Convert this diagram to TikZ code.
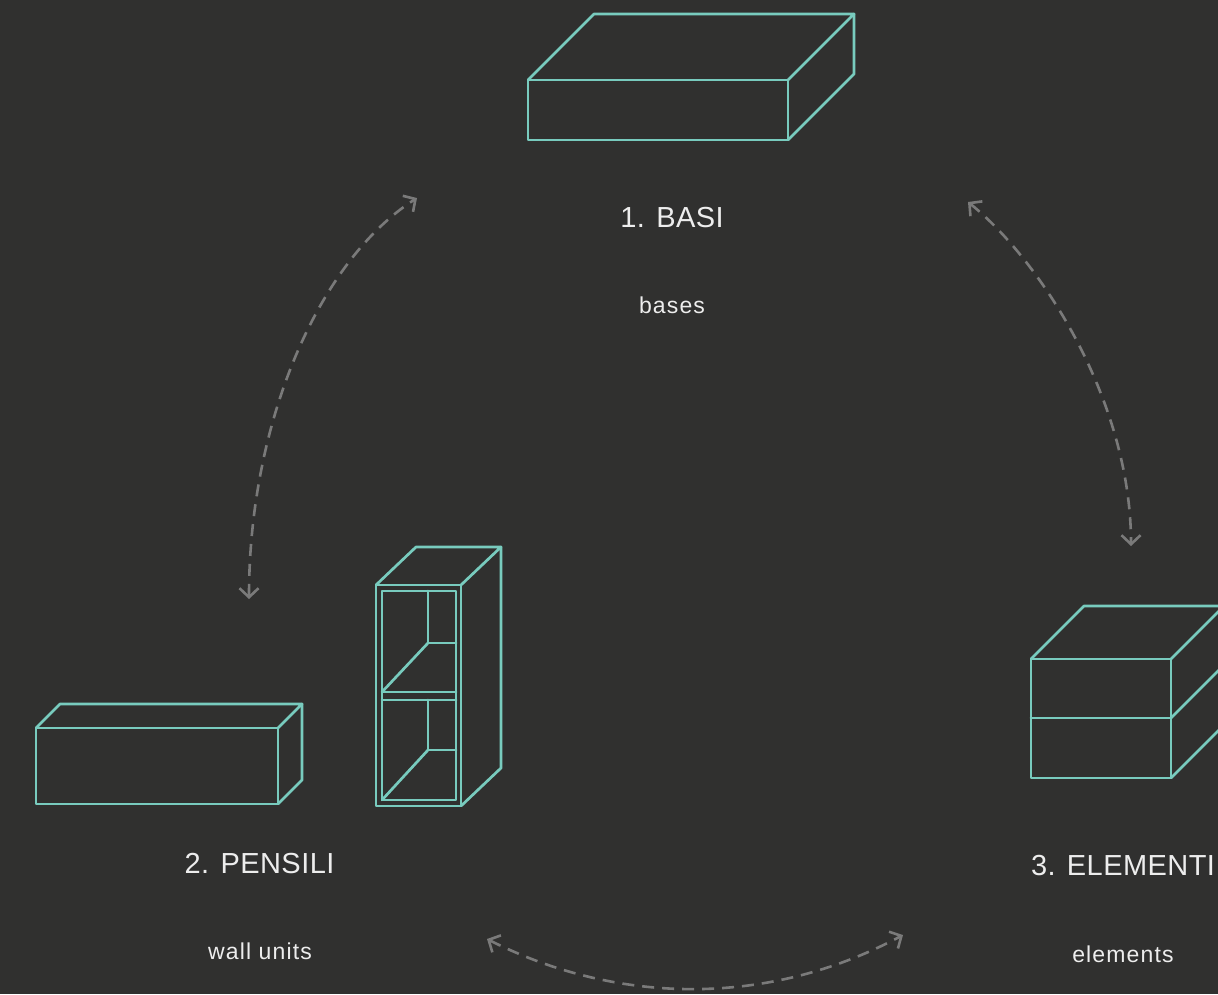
\documentclass[tikz,border=0pt]{standalone}
\usepackage{fontspec}
\setmainfont{Liberation Sans}
\newfontfamily\labelfont[LetterSpace=1.5]{Liberation Sans}
\newfontfamily\subfont[LetterSpace=5]{Liberation Sans}
\usetikzlibrary{arrows.meta}
\definecolor{bgc}{HTML}{30302F}
\definecolor{tealc}{HTML}{78CBBE}
\definecolor{arrc}{HTML}{7A7A7A}
\definecolor{txtc}{HTML}{EDEDED}
\tikzset{
  edge/.style={draw=tealc, line width=2.7pt, line join=round, line cap=round},
  cyc/.style={draw=arrc, line width=2.6pt, dash pattern=on 12pt off 8pt,
    {Straight Barb[length=9pt,width=19pt]}-{Straight Barb[length=9pt,width=19pt]}},
  title/.style={text=txtc, inner sep=0pt, font=\labelfont\fontsize{29}{34}\selectfont},
  sub/.style={text=txtc, inner sep=0pt, font=\subfont\fontsize{23}{28}\selectfont}
}
\begin{document}
\begin{tikzpicture}[x=1pt,y=-1pt]
\useasboundingbox (0,0) rectangle (1218,994);
\fill[bgc] (0,0) rectangle (1218,994);
\clip (0,0) rectangle (1218,994);

% 1. BASI box
\draw[edge] (528,80) rectangle (788,140);
\draw[edge] (528,80) -- (594,14) -- (854,14) -- (788,80);
\draw[edge] (788,140) -- (854,74) -- (854,14);

% 2. PENSILI long box
\draw[edge] (36,728) rectangle (278,804);
\draw[edge] (36,728) -- (60,704) -- (302,704) -- (278,728);
\draw[edge] (278,804) -- (302,780) -- (302,704);

% 2. PENSILI tall cabinet
\draw[edge] (376,585) rectangle (461,806);
\draw[edge] (376,585) -- (416,547) -- (501,547) -- (461,585);
\draw[edge] (461,806) -- (501,768) -- (501,547);
\draw[edge] (382,591) rectangle (456,800);
\draw[edge] (382,692) -- (456,692);
\draw[edge] (382,700) -- (456,700);
\draw[edge] (428,591) -- (428,643) -- (456,643);
\draw[edge] (428,643) -- (382,692);
\draw[edge] (428,700) -- (428,750) -- (456,750);
\draw[edge] (428,750) -- (382,800);

% 3. ELEMENTI box
\draw[edge] (1031,659) rectangle (1171,778);
\draw[edge] (1031,718) -- (1171,718);
\draw[edge] (1031,659) -- (1084,606) -- (1224,606) -- (1171,659);
\draw[edge] (1171,718) -- (1224,665);
\draw[edge] (1171,778) -- (1224,725);
\draw[edge] (1224,606) -- (1224,725);

% labels
\node[title] (t1) at (672,218) {1. BASI};
\node[sub] (s1) at (672,305) {bases};
\node[title] (t2) at (259.5,864) {2. PENSILI};
\node[sub] (s2) at (260,951) {wall units};
\node[title] (t3) at (1123,865.5) {3. ELEMENTI};
\node[sub] (s3) at (1123,954) {elements};

% cycle arrows
\coordinate (aL1) at (249,599);
\coordinate (aL2) at (417,198);
\coordinate (aR1) at (968,202);
\coordinate (aR2) at (1131,546);
\coordinate (aB1) at (487,939);
\coordinate (aB2) at (903,935);
\draw[cyc] (aL1) .. controls (249,420) and (320,260) .. (aL2);
\draw[cyc] (aR1) .. controls (1040,260) and (1131,400) .. (aR2);
\draw[cyc] (aB1) .. controls (620,1006) and (770,1006) .. (aB2);
\end{tikzpicture}
\end{document}
